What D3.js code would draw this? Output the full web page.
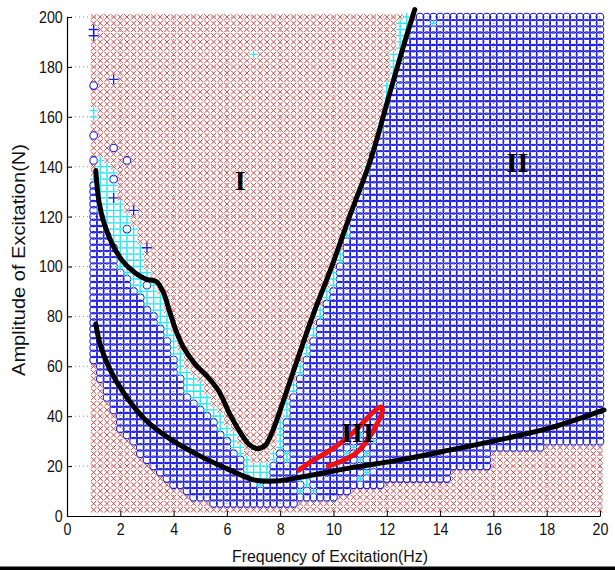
<!DOCTYPE html>
<html>
<head>
<meta charset="utf-8">
<script src="https://cdn.jsdelivr.net/npm/d3@7"></script>
<style>
  html, body { margin: 0; padding: 0; background: #fff; }
  svg { display: block; }
</style>
</head>
<body>
<svg id="chart" width="615" height="570"></svg>
<script>
// Excitation grid: frequency (Hz) columns and amplitude (N) rows
const freqs = d3.range(1, 20.001, 0.25);
const amps = d3.range(2.5, 200.001, 2.5);

// Per frequency column (1 Hz .. 20 Hz, step 0.25):
// lowest amplitude with a period-1 response (blue circles)
const colLo = [
  62.5, 55, 47.5, 42.5,      // 1
  35, 32.5, 30, 25,          // 2
  22.5, 20, 17.5, 15,        // 3
  12.5, 12.5, 10, 7.5,       // 4
  7.5, 7.5, 5, 5,            // 5
  5, 5, 5, 5,                // 6
  5, 5, 5, 5,                // 7
  5, 5, 5, 7.5,              // 8
  7.5, 7.5, 7.5, 7.5,        // 9
  7.5, 10, 10, 12.5,         // 10
  12.5, 12.5, 12.5, 12.5,    // 11
  15, 15, 15, 15,            // 12
  15, 15, 15, 15,            // 13
  15, 15, 20, 20,            // 14
  20, 20, 20, 20,            // 15
  27.5, 27.5, 27.5, 27.5,    // 16
  27.5, 27.5, 27.5, 27.5,    // 17
  30, 30, 30, 30,            // 18
  30, 30, 30, 30,            // 19
  30                         // 20
];
// amplitude where the blue circles stop (transition band starts)
const colHi = [
  135, 122.5, 115, 110,
  100, 97.5, 92.5, 90,
  85, 82.5, 77.5, 72.5,
  65, 57.5, 50, 47.5,
  45, 42.5, 40, 35,
  32.5, 27.5, 25, 20,
  17.5, 15, 17.5, 22.5,
  27.5, 40, 50, 57.5,
  65, 72.5, 80, 87.5,
  92.5, 102.5, 112.5, 122.5,
  130, 137.5, 147.5, 155,
  165, 172.5, 182.5, 192.5,
  200, 202.5, 202.5, 202.5,
  202.5, 202.5, 202.5, 202.5,
  202.5, 202.5, 202.5, 202.5,
  202.5, 202.5, 202.5, 202.5,
  202.5, 202.5, 202.5, 202.5,
  202.5, 202.5, 202.5, 202.5,
  202.5, 202.5, 202.5, 202.5,
  202.5
];
// amplitude where the chaotic region (red crosses) starts above the band
const colTop = [
  137.5, 145, 142.5, 140,
  127.5, 122.5, 117.5, 110,
  100, 95, 90, 82.5,
  75, 67.5, 60, 57.5,
  55, 50, 45, 42.5,
  37.5, 35, 30, 25,
  22.5, 22.5, 22.5, 27.5,
  40, 47.5, 55, 62.5,
  70, 77.5, 85, 92.5,
  100, 107.5, 117.5, 125,
  132.5, 142.5, 150, 160,
  175, 187.5, 200, 202.5,
  200, 202.5, 202.5, 202.5,
  202.5, 202.5, 202.5, 202.5,
  202.5, 202.5, 202.5, 202.5,
  202.5, 202.5, 202.5, 202.5,
  202.5, 202.5, 202.5, 202.5,
  202.5, 202.5, 202.5, 202.5,
  202.5, 202.5, 202.5, 202.5,
  202.5
];
// isolated responses: [frequency, amplitude, kind]  o = circle, c = cyan plus, p = blue plus
const extraPoints = [
  [1, 195, "p"], [1, 192.5, "p"], [1.75, 175, "p"], [1, 172.5, "o"],
  [1, 162.5, "c"], [1, 160, "c"], [1, 152.5, "o"], [1, 142.5, "o"],
  [1.75, 147.5, "o"], [2.25, 142.5, "o"], [1.75, 135, "o"], [1.75, 127.5, "p"],
  [2.5, 122.5, "p"], [2.25, 115, "o"], [3, 107.5, "p"], [3, 92.5, "o"],
  [7, 185, "c"], [13.75, 197.5, "c"],
  [6.75, 17.5, "c"], [7, 15, "c"], [7.25, 12.5, "c"], [7.5, 15, "c"],
  [8.25, 22.5, "c"], [8.25, 25, "c"],
  [8.75, 10, "c"], [8.75, 15, "c"], [9, 12.5, "c"], [9, 15, "c"], [9.25, 10, "c"],
  [10.5, 25, "c"], [10.75, 20, "c"], [10.75, 27.5, "c"], [11, 15, "c"], [11, 22.5, "c"],
  [11, 32.5, "c"], [11.25, 17.5, "c"], [11.25, 25, "c"], [11.5, 20, "c"], [11.5, 30, "c"]
];

// boundary curves
const upperBoundary = [
  [1.08, 138.5], [1.2, 126], [1.4, 117], [1.7, 109], [2.1, 102], [2.55, 97.5],
  [2.95, 95], [3.35, 94], [3.6, 90], [3.85, 82], [4.1, 74], [4.4, 67], [4.8, 61],
  [5.3, 55.5], [5.7, 50], [6.1, 41], [6.5, 33.5], [6.85, 28.5], [7.15, 27],
  [7.45, 28.5], [7.75, 35], [8.05, 44], [8.4, 55], [8.8, 67.5], [9.3, 82.5],
  [9.9, 99], [10.6, 120], [11.4, 143], [12.15, 171], [12.7, 191], [13.05, 203]
];
const lowerBoundary = [
  [1.08, 77], [1.25, 68.5], [1.6, 59], [2.15, 49], [2.9, 39], [3.85, 31], [5, 24],
  [6.1, 18.5], [7, 14.5], [7.8, 14], [8.75, 15.5], [10.6, 19.2], [12.5, 22.5],
  [14.4, 26.5], [16.3, 30.7], [18.2, 35.5], [20.15, 42.5]
];
const regionIIILoop = [
  [8.7, 18.4], [9.25, 22.4], [9.9, 26.5], [10.5, 31.2], [11.1, 37.3], [11.5, 41.7],
  [11.77, 43.7], [11.84, 42.5], [11.65, 37.3], [11.28, 30.5], [10.9, 25.7],
  [10.4, 22.4], [9.8, 20]
];
const regionLabels = [
  { text: "I", f: 6.5, a: 134.5 },
  { text: "II", f: 16.9, a: 141.5 },
  { text: "III", f: 10.9, a: 33.3 }
];
const xTicks = d3.range(0, 21, 2);
const yTicks = d3.range(0, 201, 20);

const svg = d3.select("#chart");
const x = d3.scaleLinear().domain([0, 20]).range([67, 600]);
const y = d3.scaleLinear().domain([0, 200]).range([516, 17]);

// classify each grid sample
const kindAt = new Map();
freqs.forEach((f, i) => {
  amps.forEach(a => {
    let k;
    if (a < colLo[i]) k = "x";
    else if (a < colHi[i]) k = "o";
    else if (a < colTop[i]) k = "c";
    else k = "x";
    kindAt.set(f + "|" + a, k);
  });
});
extraPoints.forEach(([f, a, k]) => kindAt.set(f + "|" + a, k));
const samples = [];
kindAt.forEach((k, key) => {
  const [f, a] = key.split("|").map(Number);
  samples.push({ f, a, k });
});

// dotted grid
const grid = svg.append("g").attr("stroke", "#444").attr("stroke-width", 0.8)
  .attr("stroke-dasharray", "1,3").attr("opacity", 0.75);
grid.selectAll("line.v").data(xTicks.filter(t => t > 0)).join("line")
  .attr("x1", d => x(d)).attr("x2", d => x(d)).attr("y1", y(0)).attr("y2", y(200));
grid.selectAll("line.h").data(yTicks.filter(t => t > 0)).join("line")
  .attr("x1", x(0)).attr("x2", x(20)).attr("y1", d => y(d)).attr("y2", d => y(d));

// markers
const marks = svg.append("g");
marks.selectAll("path.cross").data(samples.filter(d => d.k === "x")).join("path")
  .attr("class", "cross")
  .attr("transform", d => `translate(${x(d.f)},${y(d.a)})`)
  .attr("d", "M-2.7,-2.7L2.7,2.7M-2.7,2.7L2.7,-2.7")
  .attr("stroke", "#d04646").attr("stroke-width", 1).attr("fill", "none");
marks.selectAll("circle").data(samples.filter(d => d.k === "o")).join("circle")
  .attr("cx", d => x(d.f)).attr("cy", d => y(d.a)).attr("r", 3.8)
  .attr("fill", "none").attr("stroke", "#1616dc").attr("stroke-width", 1.1);
marks.selectAll("path.cyan").data(samples.filter(d => d.k === "c")).join("path")
  .attr("class", "cyan")
  .attr("transform", d => `translate(${x(d.f)},${y(d.a)})`)
  .attr("d", "M-4,0H4M0,-4V4")
  .attr("stroke", "#30e6f2").attr("stroke-width", 1.3).attr("fill", "none");
marks.selectAll("path.plus").data(samples.filter(d => d.k === "p")).join("path")
  .attr("class", "plus")
  .attr("transform", d => `translate(${x(d.f)},${y(d.a)})`)
  .attr("d", "M-5,0H5M0,-5V5")
  .attr("stroke", "#2222cc").attr("stroke-width", 1.4).attr("fill", "none");

// axes
const tickFont = "'Liberation Sans', Arial, sans-serif";
const gx = svg.append("g").attr("transform", `translate(0,${y(0)})`)
  .call(d3.axisBottom(x).tickValues(xTicks).tickSize(-5).tickSizeOuter(0).tickPadding(7));
const gy = svg.append("g").attr("transform", `translate(${x(0)},0)`)
  .call(d3.axisLeft(y).tickValues(yTicks).tickSize(-5).tickSizeOuter(0).tickPadding(5));
[gx, gy].forEach(g => {
  g.select(".domain").attr("stroke", "#000").attr("stroke-width", 1.2);
  g.selectAll(".tick line").attr("stroke", "#000");
  g.selectAll(".tick text").attr("font-family", tickFont).attr("font-size", 17)
    .attr("fill", "#111").attr("transform", "scale(0.84,1)");
});

// boundary curves
const line = d3.line().x(d => x(d[0])).y(d => y(d[1])).curve(d3.curveCatmullRom.alpha(0.5));
svg.append("path").attr("d", line(upperBoundary)).attr("fill", "none")
  .attr("stroke", "#000").attr("stroke-width", 5).attr("stroke-linecap", "round");
svg.append("path").attr("d", line(lowerBoundary)).attr("fill", "none")
  .attr("stroke", "#000").attr("stroke-width", 5).attr("stroke-linecap", "round");
svg.append("path").attr("d", line(regionIIILoop)).attr("fill", "none")
  .attr("stroke", "#ee1111").attr("stroke-width", 5).attr("stroke-linecap", "round");

// region labels
svg.selectAll("text.region").data(regionLabels).join("text")
  .attr("class", "region")
  .attr("x", d => x(d.f)).attr("y", d => y(d.a))
  .attr("text-anchor", "middle").attr("dominant-baseline", "central")
  .attr("font-family", "'Liberation Serif', 'Times New Roman', serif")
  .attr("font-weight", "bold").attr("font-size", 28).attr("fill", "#000")
  .text(d => d.text);

// axis titles
svg.append("text").attr("x", 330).attr("y", 562).attr("text-anchor", "middle")
  .attr("font-family", tickFont).attr("font-size", 17).attr("fill", "#111")
  .attr("textLength", 196).attr("lengthAdjust", "spacingAndGlyphs")
  .text("Frequency of Excitation(Hz)");
svg.append("text").attr("transform", "translate(25,260) rotate(-90)").attr("text-anchor", "middle")
  .attr("font-family", tickFont).attr("font-size", 18).attr("fill", "#111")
  .attr("textLength", 232).attr("lengthAdjust", "spacingAndGlyphs")
  .text("Amplitude of Excitation(N)");

// frame edge
svg.append("rect").attr("x", 0).attr("y", 566.5).attr("width", 615).attr("height", 3.5).attr("fill", "#000");
</script>
</body>
</html>
